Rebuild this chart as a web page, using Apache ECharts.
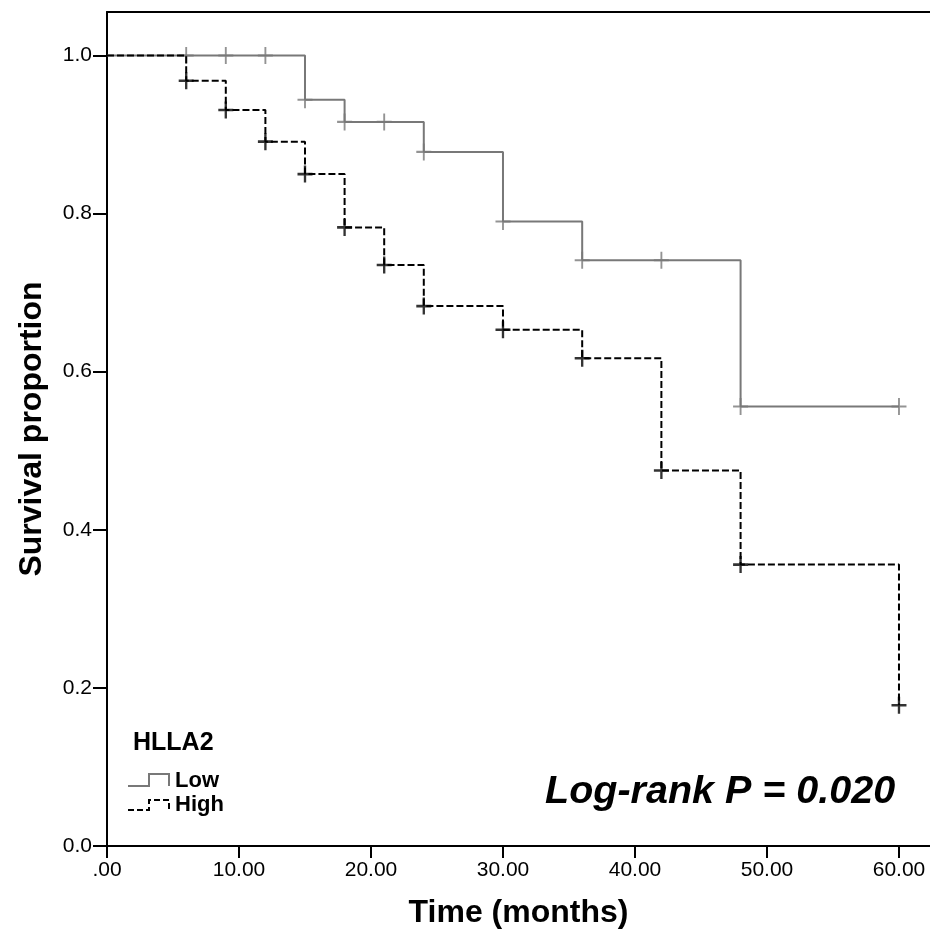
<!DOCTYPE html>
<html>
<head>
<meta charset="utf-8">
<script src="https://cdn.jsdelivr.net/npm/echarts@6/dist/echarts.min.js"></script>
<style>html,body{margin:0;padding:0;background:#fff;overflow:hidden}#c{width:930px;height:937px}</style>
</head>
<body>
<div id="c"></div>
<script>
// Kaplan-Meier curves (time in months, survival proportion)
const lowTimes   = [0, 15, 18, 24, 30, 36, 48, 60];
const lowSurv    = [1.0, 0.944, 0.916, 0.878, 0.790, 0.741, 0.556, 0.556];
const highTimes  = [0, 6, 9, 12, 15, 18, 21, 24, 30, 36, 42, 48, 60];
const highSurv   = [1.0, 0.968, 0.931, 0.891, 0.850, 0.7825, 0.735, 0.683, 0.653, 0.617, 0.475, 0.356, 0.178];
// censor marks
const lowCensorT  = [6, 9, 12, 15, 18, 21, 24, 30, 36, 42, 48, 60];
const lowCensorS  = [1.0, 1.0, 1.0, 0.944, 0.916, 0.916, 0.878, 0.790, 0.741, 0.741, 0.556, 0.556];
const highCensorT = [6, 9, 12, 15, 18, 21, 24, 30, 36, 42, 48, 60];
const highCensorS = [0.968, 0.931, 0.891, 0.850, 0.7825, 0.735, 0.683, 0.653, 0.617, 0.475, 0.356, 0.178];
// ticks
const xTicks = [0, 10, 20, 30, 40, 50, 60];
const xTickLabels = ['.00', '10.00', '20.00', '30.00', '40.00', '50.00', '60.00'];
const yTicks = [0, 0.2, 0.4, 0.6, 0.8, 1.0];
const yTickLabels = ['0.0', '0.2', '0.4', '0.6', '0.8', '1.0'];

const zip = (a, b) => a.map((v, i) => [v, b[i]]);
const FONT = "'Liberation Sans',Arial,Helvetica,sans-serif";
const plus = 'path://M0,-8L0,8M-7,0L7,0';
const GRAY = '#787878';
const X_MAX = 62.35;

const chart = echarts.init(document.getElementById('c'));
chart.setOption({
  animation: false,
  backgroundColor: '#fff',
  grid: { left: 107, right: 0, top: 12, bottom: 91, show: false },
  xAxis: [{
    type: 'value', min: 0, max: X_MAX,
    name: 'Time (months)', nameLocation: 'middle', nameGap: 51,
    nameTextStyle: { fontFamily: FONT, fontWeight: 'bold', fontSize: 32, color: '#000' },
    axisLine: { show: true, lineStyle: { color: '#000', width: 2 } },
    axisTick: { show: true, length: 12, lineStyle: { color: '#000', width: 2 }, customValues: xTicks },
    axisLabel: { customValues: xTicks, color: '#000', fontFamily: FONT, fontSize: 21, margin: 14,
      formatter: v => xTickLabels[xTicks.indexOf(Math.round(v))] || '' },
    splitLine: { show: false }
  }, {
    type: 'value', position: 'top', min: 0, max: X_MAX,
    axisLine: { show: true, lineStyle: { color: '#000', width: 2 } },
    axisTick: { show: false }, axisLabel: { show: false }, splitLine: { show: false }
  }],
  yAxis: {
    type: 'value', min: 0, max: 1.055,
    name: 'Survival proportion', nameLocation: 'middle', nameGap: 59,
    nameTextStyle: { fontFamily: FONT, fontWeight: 'bold', fontSize: 32, color: '#000' },
    axisLine: { show: true, lineStyle: { color: '#000', width: 2 } },
    axisTick: { show: true, length: 14, lineStyle: { color: '#000', width: 2 }, customValues: yTicks },
    axisLabel: { customValues: yTicks, color: '#000', fontFamily: FONT, fontSize: 21, margin: 15,
      formatter: v => yTickLabels[yTicks.findIndex(t => Math.abs(t - v) < 1e-6)] || '' },
    splitLine: { show: false }
  },
  series: [
    { name: 'Low', type: 'line', step: 'end', data: zip(lowTimes, lowSurv), showSymbol: false, symbol: 'none',
      lineStyle: { color: GRAY, width: 2 }, z: 2 },
    { name: 'Low censored', type: 'scatter', data: zip(lowCensorT, lowCensorS), symbol: plus, symbolSize: [15, 17],
      itemStyle: { color: 'transparent', borderColor: GRAY, borderWidth: 2 }, z: 3 },
    { name: 'High', type: 'line', step: 'end', data: zip(highTimes, highSurv), showSymbol: false, symbol: 'none',
      lineStyle: { color: '#000', width: 2, type: [7, 3] }, z: 4 },
    { name: 'High censored', type: 'scatter', data: zip(highCensorT, highCensorS), symbol: plus, symbolSize: [15, 17],
      itemStyle: { color: 'transparent', borderColor: '#000', borderWidth: 2.5 }, z: 5 }
  ],
  graphic: [
    { type: 'text', x: 133, y: 743, style: { text: 'HLLA2', fontFamily: FONT, fontWeight: 'bold', fontSize: 25, fill: '#000', verticalAlign: 'middle' } },
    { type: 'polyline', shape: { points: [[128, 786], [149, 786], [149, 774], [169, 774], [169, 786]] },
      style: { stroke: GRAY, lineWidth: 2, fill: null } },
    { type: 'text', x: 175, y: 781, style: { text: 'Low', fontFamily: FONT, fontWeight: 'bold', fontSize: 22, fill: '#000', verticalAlign: 'middle' } },
    { type: 'polyline', shape: { points: [[128, 810], [149, 810], [149, 800], [169, 800], [169, 810]] },
      style: { stroke: '#000', lineWidth: 2, fill: null, lineDash: [6, 3] } },
    { type: 'text', x: 175, y: 805, style: { text: 'High', fontFamily: FONT, fontWeight: 'bold', fontSize: 22, fill: '#000', verticalAlign: 'middle' } },
    { type: 'text', x: 545, y: 792, style: { text: 'Log-rank P = 0.020', fontFamily: FONT, fontWeight: 'bold', fontStyle: 'italic', fontSize: 39.5, fill: '#000', verticalAlign: 'middle' } }
  ]
});
</script>
</body>
</html>
